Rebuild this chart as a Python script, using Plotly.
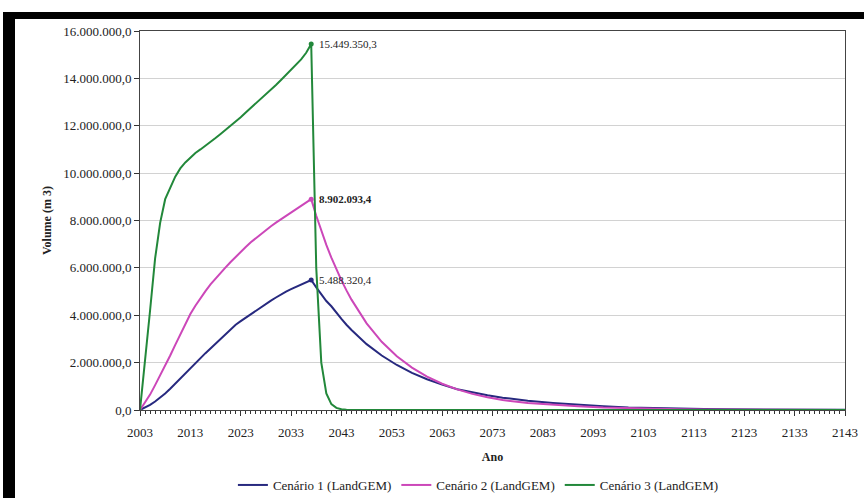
import plotly.graph_objects as go

# ---------------- data (values in m3) ----------------
rise_years = list(range(2003, 2038))
tail_years = [2038, 2039, 2040, 2041, 2042, 2043, 2044, 2045, 2048, 2051, 2054, 2057,
              2060, 2063, 2066, 2069, 2072, 2075, 2080, 2085, 2090, 2095, 2100, 2105,
              2110, 2115, 2120, 2125, 2130, 2135, 2140, 2143]

cen1_rise = [0.0, 0.10, 0.22, 0.36, 0.52, 0.70, 0.90, 1.12, 1.34, 1.56, 1.78, 2.00,
             2.20, 2.40, 2.60, 2.80, 3.00, 3.20, 3.40, 3.60, 3.75, 3.90, 4.05, 4.20,
             4.35, 4.50, 4.62, 4.75, 4.88, 5.00, 5.10, 5.20, 5.30, 5.40, 5.4883204]
cen1_tail = [5.18, 4.90, 4.60, 4.38, 4.10, 3.85, 3.60, 3.38, 2.78, 2.30, 1.90, 1.57,
             1.30, 1.07, 0.88, 0.74, 0.62, 0.52, 0.39, 0.30, 0.22, 0.16, 0.11, 0.08,
             0.055, 0.04, 0.028, 0.02, 0.014, 0.01, 0.007, 0.006]

cen2_rise = [0.0, 0.30, 0.65, 1.05, 1.45, 1.85, 2.30, 2.75, 3.20, 3.65, 4.05, 4.40,
             4.72, 5.02, 5.30, 5.55, 5.80, 6.02, 6.25, 6.47, 6.68, 6.88, 7.08, 7.26,
             7.44, 7.60, 7.76, 7.91, 8.05, 8.19, 8.32, 8.45, 8.59, 8.74, 8.9020934]
cen2_tail = [8.20, 7.55, 6.97, 6.43, 5.93, 5.47, 5.05, 4.66, 3.66, 2.88, 2.27, 1.79,
             1.41, 1.11, 0.87, 0.68, 0.54, 0.42, 0.30, 0.22, 0.16, 0.11, 0.075, 0.05,
             0.033, 0.022, 0.015, 0.01, 0.007, 0.005, 0.003, 0.002]

cen3_rise = [0.0, 2.00, 4.20, 6.40, 7.90, 8.90, 9.40, 9.85, 10.20, 10.45, 10.65, 10.85,
             11.00, 11.15, 11.30, 11.48, 11.65, 11.82, 12.00, 12.17, 12.36, 12.56, 12.75, 12.94,
             13.13, 13.30, 13.50, 13.72, 13.93, 14.15, 14.36, 14.57, 14.80, 15.08, 15.4493503]
cen3_tail = [6.00, 2.00, 0.70, 0.25, 0.09, 0.03, 0.01, 0.005, 0.0, 0.0, 0.0, 0.0,
             0.0, 0.0, 0.0, 0.0, 0.0, 0.0, 0.0, 0.0, 0.0, 0.0, 0.0, 0.0,
             0.0, 0.0, 0.0, 0.0, 0.0, 0.0, 0.0, 0.0]

names = ["Cenário 1 (LandGEM)", "Cenário 2 (LandGEM)", "Cenário 3 (LandGEM)"]
colors = ["#27297F", "#CC47B9", "#22883A"]
peak_year = 2037
peak_labels = ["5.488.320,4", "8.902.093,4", "15.449.350,3"]
x_ticks = list(range(2003, 2144, 10))
y_ticks = list(range(0, 16000001, 2000000))

M = 1_000_000
series = [(cen1_rise, cen1_tail), (cen2_rise, cen2_tail), (cen3_rise, cen3_tail)]

# ---------------- figure ----------------
W, H = 864, 498
L, R, T, B = 140, 19, 31, 88
pw, ph = W - L - R, H - T - B


def px(x):
    return (x - L) / pw


def py(y):
    return (H - B - y) / ph


FONT = "'Liberation Serif', 'Times New Roman', serif"
fig = go.Figure()

for (rise, tail), name, col in zip(series, names, colors):
    xs = rise_years + tail_years
    ys = [v * M for v in rise + tail]
    fig.add_trace(go.Scatter(x=xs, y=ys, mode="lines", name=name,
                             line=dict(color=col, width=2)))

for (rise, tail), col, lab, i in zip(series, colors, peak_labels, range(3)):
    pv = rise[rise_years.index(peak_year)] * M
    fig.add_trace(go.Scatter(x=[peak_year], y=[pv], mode="markers", showlegend=False,
                             marker=dict(color=col, size=5)))
    txt = "<b>%s</b>" % lab if i == 1 else lab
    fig.add_annotation(x=peak_year, y=pv, text=txt, showarrow=False,
                       xanchor="left", yanchor="middle", xshift=6,
                       font=dict(family=FONT, size=11, color="#222"))

fig.update_layout(
    width=W, height=H,
    margin=dict(l=L, r=R, t=T, b=B, autoexpand=False),
    paper_bgcolor="white", plot_bgcolor="white",
    separators=",.",
    font=dict(family=FONT, size=13, color="#222"),
    showlegend=True,
    legend=dict(orientation="h", x=0.48, xanchor="center", y=py(485), yanchor="middle",
                font=dict(family=FONT, size=13, color="#222"),
                itemwidth=30, tracegroupgap=0, bgcolor="rgba(0,0,0,0)"),
    xaxis=dict(range=[2003, 2143], tickvals=x_ticks, ticks="outside", ticklen=5,
               tickcolor="#333", showline=True, linecolor="#444", linewidth=1, mirror=True,
               showgrid=False, zeroline=False, ticklabelstandoff=5,
               minor=dict(dtick=1, tick0=2003, ticks="outside", ticklen=3, tickcolor="#333",
                          showgrid=False),
               title=dict(text="<b>Ano</b>", standoff=14,
                          font=dict(family=FONT, size=12, color="#222"))),
    yaxis=dict(range=[0, 16000000], tickvals=y_ticks, tickformat=",.1f",
               ticks="outside", ticklen=5, tickcolor="#333",
               showline=True, linecolor="#444", linewidth=1, mirror=True,
               showgrid=True, gridcolor="#D2D2D2", gridwidth=1, zeroline=False,
               title=dict(text="<b>Volume (m 3)</b>", standoff=8,
                          font=dict(family=FONT, size=12, color="#222"))),
)

# black frame pieces (left and top) of the original picture
fig.add_shape(type="rect", xref="paper", yref="paper",
              x0=px(3), x1=px(15), y0=py(H), y1=py(12),
              fillcolor="black", line=dict(width=0), layer="above")
fig.add_shape(type="rect", xref="paper", yref="paper",
              x0=px(3), x1=px(W), y0=py(19), y1=py(12),
              fillcolor="black", line=dict(width=0), layer="above")

fig.write_html("out.html", config={"displayModeBar": False},
               post_script="document.body.style.margin='0';document.body.style.overflow='hidden';")
